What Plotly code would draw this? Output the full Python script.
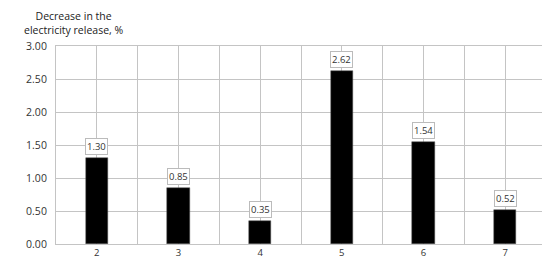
import plotly.graph_objects as go

categories = [2, 3, 4, 5, 6, 7]
values = [1.30, 0.85, 0.35, 2.62, 1.54, 0.52]
labels = ["1.30", "0.85", "0.35", "2.62", "1.54", "0.52"]
y_ticks = [0, 0.5, 1, 1.5, 2, 2.5, 3]
y_ticktext = ["0.00", "0.50", "1.00", "1.50", "2.00", "2.50", "3.00"]

grid = "#c4c4c4"
fnt = "Open Sans"

fig = go.Figure()
fig.add_trace(go.Bar(
    x=categories, y=values, width=0.27,
    marker=dict(color="black", line=dict(color="#555555", width=0.5)),
    showlegend=False,
))

for c, v, t in zip(categories, values, labels):
    fig.add_annotation(
        x=c, y=v, text=t, showarrow=False, yanchor="bottom", yshift=3,
        font=dict(family=fnt, size=9.5, color="#333333"),
        bgcolor="white", bordercolor="#bbbbbb", borderwidth=1, borderpad=1,
    )

# axis title sits above the y axis, centred over the tick labels
fig.add_annotation(
    xref="paper", yref="paper", x=0.035, y=1.0, yshift=7,
    xanchor="center", yanchor="bottom", showarrow=False, align="center",
    text="Decrease in the<br>electricity release, %",
    font=dict(family=fnt, size=10.5, color="#222222"),
)

fig.update_layout(
    width=550, height=263,
    margin=dict(l=48, r=12, t=38, b=27),
    plot_bgcolor="white", paper_bgcolor="white",
    font=dict(family=fnt, size=10, color="#333333"),
    xaxis=dict(
        range=[1.5, 7.5], tickvals=categories, ticktext=[str(c) for c in categories],
        showgrid=True, gridcolor=grid, gridwidth=1,
        minor=dict(tick0=1.5, dtick=1, showgrid=True, gridcolor=grid, gridwidth=1),
        showline=True, linecolor=grid, mirror=True, ticks="",
        tickfont=dict(size=9.5),
    ),
    yaxis=dict(
        range=[0, 3], tickvals=y_ticks, ticktext=y_ticktext,
        showgrid=True, gridcolor=grid, gridwidth=1,
        showline=True, linecolor=grid, mirror=True, ticks="",
        zeroline=False, tickfont=dict(size=10.5), ticklabelstandoff=6,
    ),
    bargap=0,
)

fig.write_html("out.html")
